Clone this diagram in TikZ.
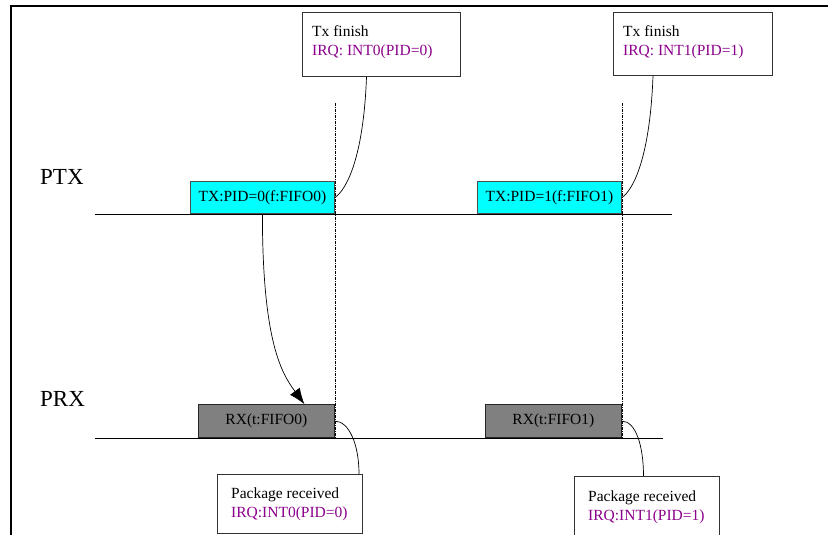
\documentclass[tikz,border=0pt]{standalone}
\usepackage{fontspec}
\setmainfont{Liberation Serif}
\usetikzlibrary{arrows.meta}
\definecolor{irqpurple}{RGB}{140,0,140}
\definecolor{rxgray}{RGB}{128,128,128}
\definecolor{txcyan}{RGB}{0,255,255}
\begin{document}
\begin{tikzpicture}[x=1pt,y=-1pt,
  every node/.style={font=\fontsize{15.5}{18.5}\selectfont},
  notebox/.style={draw=black!80,line width=1pt,fill=white,inner sep=0pt,anchor=north west},
  txbox/.style={draw=black!70,line width=0.8pt,fill=txcyan,inner sep=0pt,minimum width=144pt,minimum height=32pt,anchor=south west},
  rxbox/.style={draw=black!85,line width=0.8pt,fill=rxgray,inner sep=0pt,minimum width=136pt,minimum height=33pt,anchor=south west},
  txt/.style={inner sep=0pt,anchor=base west},
  irq/.style={txt,text=irqpurple},
  lane/.style={line width=0.8pt},
  timemark/.style={line width=0.9pt,dash pattern=on 3pt off 1pt on 1pt off 1pt},
  link/.style={line width=0.7pt},
  big/.style={inner sep=0pt,anchor=base west,font=\fontsize{23}{27}\selectfont}]
\useasboundingbox (0,0) rectangle (828,535);
% frame
\draw[line width=2pt] (11,535) -- (11,6) -- (828,6);
% lanes
\draw[lane] (95,214) -- (672,214);
\draw[lane] (95,438) -- (663,438);
\node[big] (ptx) at (40,184) {PTX};
\node[big] (prx) at (40,406) {PRX};
% dashed markers
\draw[timemark] (335,103) -- (335,438);
\draw[timemark] (622,103) -- (622,438);
% TX / RX boxes
\node[txbox] (tx1) at (190,214) {TX:PID=0(f:FIFO0)};
\node[txbox] (tx2) at (477,214) {TX:PID=1(f:FIFO1)};
\node[rxbox] (rx1) at (198,438) {RX(t:FIFO0)};
\node[rxbox] (rx2) at (485,438) {RX(t:FIFO1)};
% top note boxes
\node[notebox,minimum width=158pt,minimum height=64pt] (n1) at (302,12) {};
\node[notebox,minimum width=159pt,minimum height=63pt] (n2) at (613,12) {};
\node[txt] (n1a) at (312,37) {Tx finish};
\node[irq] (n1b) at (312,55.5) {IRQ: INT0(PID=0)};
\node[txt] (n2a) at (623,37) {Tx finish};
\node[irq] (n2b) at (623,55.5) {IRQ: INT1(PID=1)};
% bottom note boxes
\node[notebox,minimum width=145pt,minimum height=59pt] (p1) at (217,474) {};
\node[notebox,minimum width=145pt,minimum height=59pt] (p2) at (574,476) {};
\node[txt] (p1a) at (231,498) {Package received};
\node[irq] (p1b) at (231,517) {IRQ:INT0(PID=0)};
\node[txt] (p2a) at (588,501) {Package received};
\node[irq] (p2b) at (588,520) {IRQ:INT1(PID=1)};
% connectors
\draw[link] ([xshift=-15pt]n1.south) .. controls ([xshift=-18pt,yshift=-80pt]n1.south) and ([xshift=12pt,yshift=8pt]tx1.east) .. (tx1.east);
\draw[link] ([xshift=-40pt]n2.south) .. controls ([xshift=-43pt,yshift=-80pt]n2.south) and ([xshift=12pt,yshift=8pt]tx2.east) .. (tx2.east);
\draw[link,-{Latex[length=16pt,width=12pt]}] (tx1.south) .. controls ([yshift=-130pt]tx1.south) and ([xshift=16pt,yshift=30pt]rx1.north) .. ([xshift=38pt]rx1.north);
\draw[link] (rx1.east) .. controls ([xshift=14pt]rx1.east) and ([xshift=-4pt,yshift=30pt]p1.north east) .. ([xshift=-4pt]p1.north east);
\draw[link] (rx2.east) .. controls ([xshift=14pt]rx2.east) and ([xshift=-3.5pt,yshift=30pt]p2.north) .. ([xshift=-3.5pt]p2.north);
\end{tikzpicture}
\end{document}
